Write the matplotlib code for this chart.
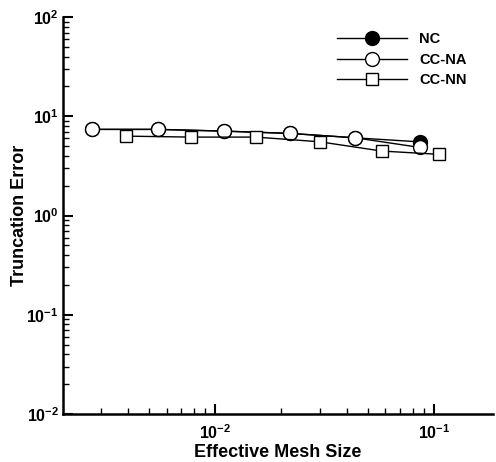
import matplotlib
matplotlib.use("Agg")
import math
import matplotlib.pyplot as plt
from matplotlib.ticker import LogLocator, FuncFormatter, NullFormatter

plt.rcParams['font.family'] = ['Liberation Sans', 'DejaVu Sans']
plt.rcParams['font.weight'] = 'bold'
plt.rcParams['mathtext.fontset'] = 'custom'
plt.rcParams['mathtext.rm'] = 'Liberation Sans:bold'
plt.rcParams['mathtext.bf'] = 'Liberation Sans:bold'
plt.rcParams['mathtext.default'] = 'bf'

nc_x = [0.00275, 0.0055, 0.011, 0.022, 0.0436, 0.0862]
nc_y = [7.39, 7.39, 7.1, 6.73, 6.08, 5.53]
ccna_x = [0.00275, 0.0055, 0.011, 0.022, 0.0436, 0.0862]
ccna_y = [7.39, 7.39, 7.1, 6.73, 6.08, 4.86]
ccnn_x = [0.00393, 0.00777, 0.01535, 0.0301, 0.0577, 0.1057]
ccnn_y = [6.32, 6.18, 6.18, 5.54, 4.47, 4.14]

fig = plt.figure(figsize=(4.96, 4.62), dpi=100)
ax = fig.add_axes([0.127, 0.1039, 0.867, 0.859])

ax.plot(nc_x, nc_y, color='black', lw=1.0, marker='o', ms=10, mfc='black', mec='black', label='NC')
ax.plot(ccna_x, ccna_y, color='black', lw=1.0, marker='o', ms=10, mfc='white', mec='black', label='CC-NA')
ax.plot(ccnn_x, ccnn_y, color='black', lw=1.0, marker='s', ms=8, mfc='white', mec='black', label='CC-NN')

ax.set_xscale('log')
ax.set_yscale('log')
ax.set_xlim(2.02e-3, 0.186)
ax.set_ylim(1e-2, 1e2)

for s in ['top', 'right']:
    ax.spines[s].set_visible(False)
for s in ['left', 'bottom']:
    ax.spines[s].set_linewidth(1.8)

def fmt(v, pos):
    e = int(round(math.log10(v)))
    return r'$\mathbf{10^{%d}}$' % e

ax.xaxis.set_major_locator(LogLocator(base=10, numticks=10))
ax.yaxis.set_major_locator(LogLocator(base=10, numticks=10))
ax.xaxis.set_minor_locator(LogLocator(base=10, subs=range(2, 10), numticks=20))
ax.yaxis.set_minor_locator(LogLocator(base=10, subs=range(2, 10), numticks=20))
ax.xaxis.set_major_formatter(FuncFormatter(fmt))
ax.yaxis.set_major_formatter(FuncFormatter(fmt))
ax.xaxis.set_minor_formatter(NullFormatter())
ax.yaxis.set_minor_formatter(NullFormatter())

ax.tick_params(which='major', direction='in', length=7, width=1.5, labelsize=11.5)
ax.tick_params(axis='y', which='major', pad=3)
ax.tick_params(axis='x', which='major', pad=7)
ax.tick_params(which='minor', direction='in', length=4, width=1.0)
ax.tick_params(top=False, right=False, which='both')

ax.set_xlabel('Effective Mesh Size', fontsize=13, fontweight='bold', labelpad=1)
ax.set_ylabel('Truncation Error', fontsize=13, fontweight='bold')
ax.yaxis.set_label_coords(-0.082, 0.5)

leg = ax.legend(loc='upper left', bbox_to_anchor=(0.637, 0.962), frameon=False,
                borderaxespad=0, borderpad=0,
                handlelength=4.8, labelspacing=0.44, handletextpad=0.82,
                prop={'weight': 'bold', 'size': 10.5})

fig.savefig('out.png', dpi=100)
